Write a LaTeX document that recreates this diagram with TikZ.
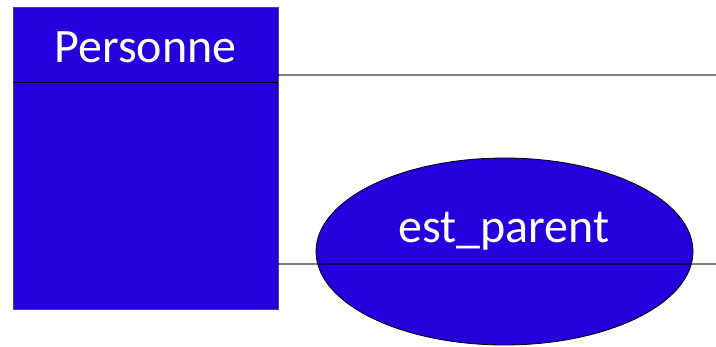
\documentclass[tikz,border=0pt]{standalone}
\usepackage{fontspec}
\setmainfont{Carlito}
\usetikzlibrary{shapes.geometric}
\definecolor{boxblue}{RGB}{35,0,220}
\tikzset{
  entity/.style={draw=black!70, line width=0.8pt, fill=boxblue, inner sep=0pt, outer sep=0pt},
  relation/.style={ellipse, draw=black, line width=0.8pt, fill=boxblue, inner sep=0pt, outer sep=0pt},
  label/.style={text=white, font=\fontsize{48}{58}\selectfont, inner sep=0pt, anchor=base},
  divider/.style={draw=black, line width=1pt},
  link/.style={draw=black, draw opacity=0.5, line width=1.2pt}
}
\begin{document}
\begin{tikzpicture}[x=1pt,y=-1pt]
\useasboundingbox (0,0) rectangle (716,346);
\node[entity, minimum width=265pt, minimum height=302pt, anchor=north west] (pers) at (13,7) {};
\coordinate (divL) at (13,82);
\coordinate (divR) at (278,82);
\draw[divider] (divL) -- (divR);
\node[label] (ptitle) at (145.5,62) {Personne};
\node[relation, minimum width=377pt, minimum height=187pt] (rel) at (504.5,251.5) {};
\node[label] (rtitle) at (504,242) {est\_parent};
\coordinate (end1) at (716,75);
\coordinate (end2) at (716,264);
\draw[link] (pers.east |- end1) -- (end1);
\draw[link] (pers.east |- end2) -- (end2);
\end{tikzpicture}
\end{document}
